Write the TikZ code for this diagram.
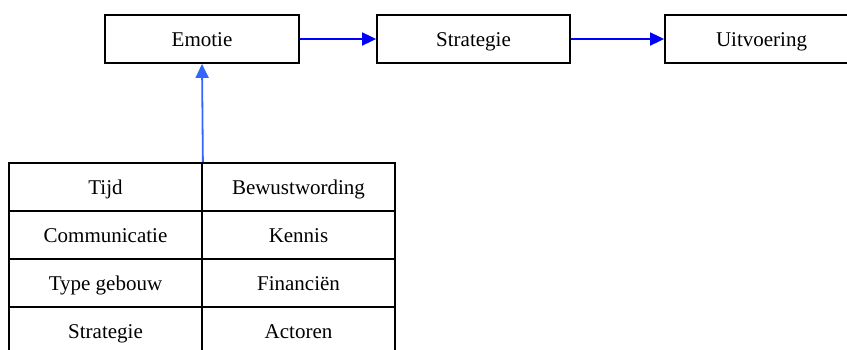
\documentclass[tikz,border=0pt]{standalone}
\usepackage{fontspec}
\setmainfont{Liberation Serif}
\usetikzlibrary{arrows.meta}
\definecolor{arrblue}{HTML}{0000FF}
\definecolor{uparrow}{HTML}{3366FF}
\begin{document}
\begin{tikzpicture}[x=1pt,y=-1pt,
  boxnode/.style={draw=black,line width=1.8pt,minimum height=48pt,inner sep=0pt,text height=14pt,text depth=0pt,font=\fontsize{21}{25}\selectfont,anchor=center},
  cell/.style={draw=black,line width=1.8pt,minimum height=48pt,minimum width=193pt,inner sep=0pt,text height=14pt,text depth=0pt,font=\fontsize{21}{25}\selectfont,anchor=center},
  flow/.style={draw=arrblue,line width=1.8pt,-{Triangle[length=14pt,width=13pt]}},
  upflow/.style={draw=uparrow,line width=1.8pt,-{Triangle[length=14pt,width=13pt]}}]
\useasboundingbox (0,0) rectangle (847,349);
\clip (0,0) rectangle (847,349);
\node[boxnode,minimum width=194pt] (emotie) at (202,39) {Emotie};
\node[boxnode,minimum width=193pt] (strategie) at (473.5,39) {Strategie};
\node[boxnode,minimum width=193pt] (uitvoering) at (761.5,39) {Uitvoering};
\node[cell] (c11) at (105.5,187) {Tijd};
\node[cell] (c12) at (298.5,187) {Bewustwording};
\node[cell] (c21) at (105.5,235) {Communicatie};
\node[cell] (c22) at (298.5,235) {Kennis};
\node[cell] (c31) at (105.5,283) {Type gebouw};
\node[cell] (c32) at (298.5,283) {Financiën};
\node[cell] (c41) at (105.5,331) {Strategie};
\node[cell] (c42) at (298.5,331) {Actoren};
\draw[flow] (emotie.east) -- (strategie.west);
\draw[flow] (strategie.east) -- (uitvoering.west);
\draw[upflow] (c11.north east) -- (emotie.south);
\end{tikzpicture}
\end{document}
